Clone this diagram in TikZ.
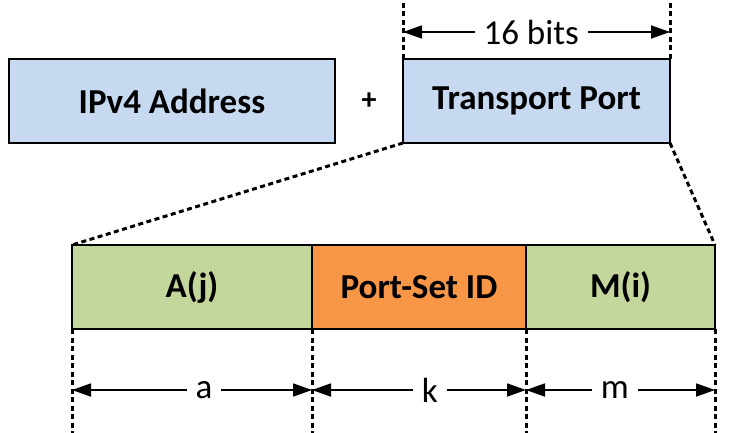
\documentclass[tikz,border=0pt]{standalone}
\usepackage{fontspec}
\setmainfont{Carlito}
\usetikzlibrary{arrows.meta,positioning}
\definecolor{addrblue}{HTML}{C6D9F1}
\definecolor{setgreen}{HTML}{C3D69B}
\definecolor{psidorange}{HTML}{F79646}
\tikzset{
  field/.style={draw, line width=2.4pt, outer sep=0pt, inner sep=0pt, minimum height=84pt,
    font=\fontsize{35}{40}\selectfont\bfseries},
  guide/.style={line width=3pt, dash pattern=on 5pt off 3.5pt},
  span/.style={line width=1.8pt, {Triangle[length=19pt,width=13pt]}-{Triangle[length=19pt,width=13pt]}},
  spanlabel/.style={fill=white, inner xsep=9pt, inner ysep=2pt, font=\fontsize{35}{40}\selectfont}
}
\begin{document}
\begin{tikzpicture}[x=1pt, y=-1pt]
  \useasboundingbox (0,0) rectangle (733,433);
  % top row
  \node[field, fill=addrblue, minimum width=326pt, anchor=north west] (ipv4) at (9,59) {IPv4 Address};
  \node[field, fill=addrblue, minimum width=267pt, anchor=north west] (tport) at (403,59) {Transport Port};
  \path (ipv4.east) -- (tport.west) node[midway, font=\fontsize{30}{34}\selectfont\bfseries] (plus) {+};
  \coordinate (tl) at (403,0);
  \coordinate (tr) at (670,0);
  \draw[guide] (tport.north west) -- (tl);
  \draw[guide] (tport.north east) -- (tr);
  \draw[span] (tport.north west |- 0,32) -- (tport.north east |- 0,32) node[spanlabel, pos=0.48] {16 bits};
  % bottom row
  \node[field, fill=setgreen, minimum width=240pt, anchor=north west] (aj) at (72,245) {A(j)};
  \node[field, fill=psidorange, minimum width=214pt, right=0pt of aj] (psid) {Port-Set ID};
  \node[field, fill=setgreen, minimum width=189pt, right=0pt of psid] (mi) {M(i)};
  \draw[guide] (tport.south west) -- (aj.north west);
  \draw[guide] (tport.south east) -- (mi.north east);
  \foreach \n in {aj.south west, aj.south east, psid.south east, mi.south east}
    \draw[guide] (\n) -- ++(0,106);
  \draw[span] (aj.south west |- 0,390) -- (aj.south east |- 0,390) node[spanlabel, pos=0.55] {a};
  \draw[span] (psid.south west |- 0,390) -- (psid.south east |- 0,390) node[spanlabel, pos=0.55] {k};
  \draw[span] (mi.south west |- 0,390) -- (mi.south east |- 0,390) node[spanlabel, pos=0.47] {m};
\end{tikzpicture}
\end{document}
